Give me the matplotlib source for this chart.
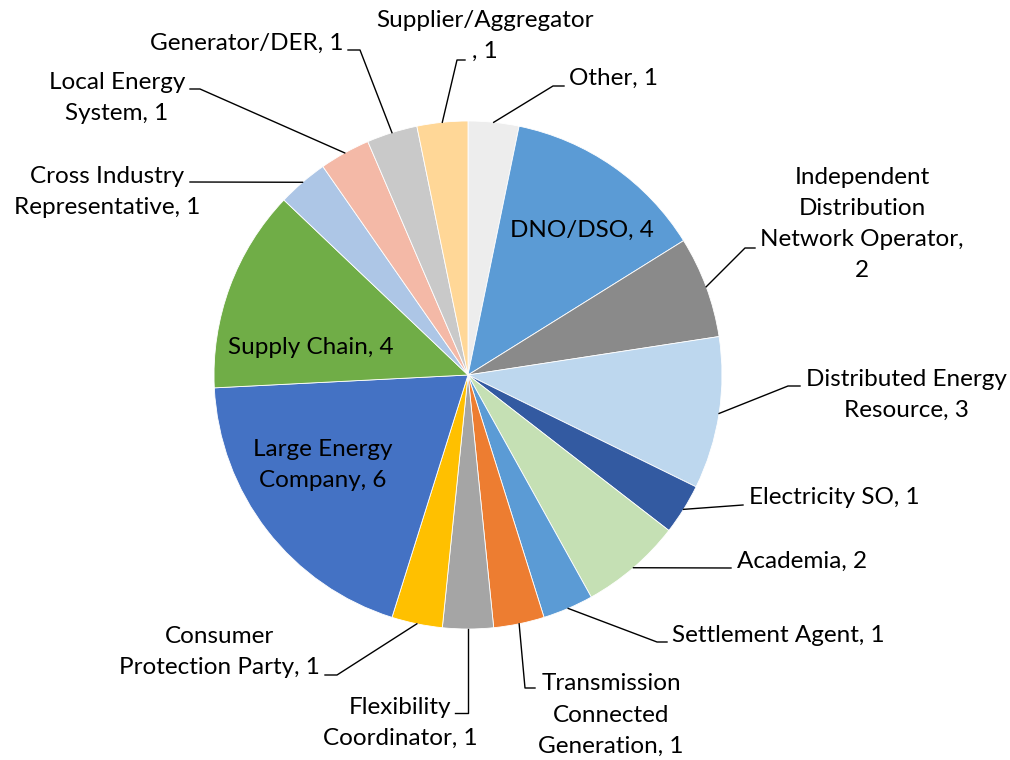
import numpy as np
import matplotlib.pyplot as plt

plt.rcParams['font.family'] = ['Lato', 'DejaVu Sans']

# Slices, clockwise from 12 o'clock
categories = ["Other", "DNO/DSO", "Independent Distribution Network Operator",
              "Distributed Energy Resource", "Electricity SO", "Academia",
              "Settlement Agent", "Transmission Connected Generation",
              "Flexibility Coordinator", "Consumer Protection Party",
              "Large Energy Company", "Supply Chain", "Cross Industry Representative",
              "Local Energy System", "Generator/DER", "Supplier/Aggregator"]
values = [1, 4, 2, 3, 1, 2, 1, 1, 1, 1, 6, 4, 1, 1, 1, 1]
labels = ["Other, 1", "DNO/DSO, 4", "Independent\nDistribution\nNetwork Operator,\n2",
          "Distributed Energy\nResource, 3", "Electricity SO, 1", "Academia, 2",
          "Settlement Agent, 1", "Transmission\nConnected\nGeneration, 1",
          "Flexibility\nCoordinator, 1", "Consumer\nProtection Party, 1",
          "Large Energy\nCompany, 6", "Supply Chain, 4", "Cross Industry\nRepresentative, 1",
          "Local Energy\nSystem, 1", "Generator/DER, 1", "Supplier/Aggregator\n, 1"]
colors = ["#EDEDED", "#5B9BD5", "#8A8A8A", "#BDD7EE", "#335AA1", "#C5E0B4",
          "#5B9BD5", "#ED7D31", "#A5A5A5", "#FFC000", "#4472C4", "#70AD47",
          "#ADC6E6", "#F4B9A7", "#C9C9C9", "#FFD797"]

W, H = 1010, 760
CX, CY, R = 468, 375, 254


def py(y):
    # pixel row (from top) -> data y
    return H - y


fig = plt.figure(figsize=(W / 100, H / 100), dpi=100)
ax = fig.add_axes([0, 0, 1, 1])
wedges, _ = ax.pie(values, colors=colors, startangle=90, counterclock=False,
                   center=(CX, py(CY)), radius=R,
                   wedgeprops=dict(edgecolor='white', linewidth=0.6))
ax.set_xlim(0, W)
ax.set_ylim(0, H)
ax.set_aspect('equal')
ax.axis('off')

fs = 17.5
ls = 1.6
# label layout: index -> (x, y, ha, leader points after the slice edge)
layout = {
    0: (569, 78, 'left', [(553, 86), (564, 86)]),
    2: (862, 224, 'center', [(745, 248), (755, 248)]),
    3: (906, 395, 'center', [(788, 386), (800, 386)]),
    4: (749, 497, 'left', [(743, 505)]),
    5: (737, 561, 'left', [(731, 568)]),
    6: (672, 635, 'left', [(657, 642), (667, 642)]),
    7: (611, 715, 'center', [(525, 688), (535, 688)]),
    8: (400, 723, 'center', [(468, 713), (455, 713)]),
    9: (219, 652, 'center', [(337, 675), (325, 675)]),
    12: (107, 192, 'center', [(190, 182)]),
    13: (117, 98, 'center', [(200, 89), (190, 89)]),
    14: (343, 43, 'right', [(360, 50), (348, 50)]),
    15: (485, 36, 'center', [(457, 60), (465, 60)]),
}
inside = {1: (582, 230), 11: (311, 348), 10: (323, 465)}

for i, w in enumerate(wedges):
    if i in inside:
        x, y = inside[i]
        ax.text(x, py(y), labels[i], ha='center', va='center', fontsize=fs,
                linespacing=ls)
        continue
    x, y, ha, pts = layout[i]
    mid = np.deg2rad((w.theta1 + w.theta2) / 2)
    ex = CX + R * np.cos(mid)
    ey = py(CY) + R * np.sin(mid)
    xs = [ex] + [p[0] for p in pts]
    ys = [ey] + [py(p[1]) for p in pts]
    ax.plot(xs, ys, color='black', linewidth=1)
    ax.text(x, py(y), labels[i], ha=ha, va='center', fontsize=fs,
            multialignment='center', linespacing=ls)

fig.savefig('out.png', dpi=100)
